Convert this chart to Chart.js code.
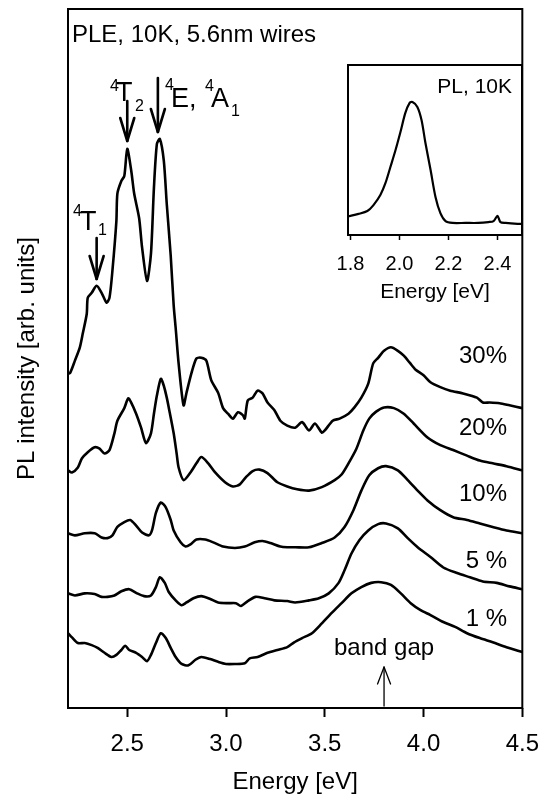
<!DOCTYPE html>
<html><head><meta charset="utf-8">
<script src="https://cdn.jsdelivr.net/npm/chart.js@4/dist/chart.umd.min.js"></script>
<style>
html,body{margin:0;padding:0;background:#fff;}
#wrap{position:relative;width:552px;height:800px;background:#fff;}
#main{position:absolute;left:0;top:0;width:552px;height:800px;}
#inset{position:absolute;left:300px;top:50px;width:240px;height:260px;}
</style></head><body>
<div id="wrap"><canvas id="main" width="552" height="800"></canvas><canvas id="inset" width="240" height="260"></canvas></div>
<script>
// ---- data (energy in eV, PL intensity in arbitrary units, curves offset as in the figure) ----
const energy30 = [2.2,2.21,2.235,2.26,2.275,2.295,2.3,2.32,2.345,2.37,2.395,2.41,2.425,2.445,2.45,2.47,2.485,2.5,2.52,2.535,2.56,2.575,2.6,2.62,2.635,2.65,2.665,2.685,2.7,2.72,2.735,2.745,2.76,2.785,2.8,2.825,2.85,2.875,2.9,2.925,2.96,2.985,3.01,3.035,3.06,3.085,3.095,3.11,3.135,3.16,3.185,3.21,3.245,3.275,3.31,3.35,3.385,3.42,3.45,3.485,3.5,3.54,3.575,3.62,3.65,3.685,3.72,3.745,3.77,3.8,3.835,3.87,3.9,3.93,3.96,4.0,4.035,4.085,4.135,4.2,4.27,4.3,4.335,4.385,4.435,4.5];
const pl30 = [47.9,47.9,49.7,51.6,53.6,56.4,58.7,59.4,60.4,59.4,58.0,58.7,62.6,69.7,73.6,75.4,76.1,80.0,76.9,73.6,70.1,65.9,61.1,65.0,74.4,80.7,81.4,78.3,72.1,64.7,57.6,54.4,49.3,43.3,45.1,47.9,50.0,50.1,49.7,46.9,45.1,42.9,42.1,41.4,42.3,41.9,41.4,44.0,44.4,45.4,45.0,43.7,42.6,41.1,40.4,40.1,40.9,39.7,40.7,39.4,39.7,41.1,41.4,42.1,43.0,44.4,46.4,49.3,50.1,51.1,51.6,51.1,50.4,49.4,48.4,47.6,46.6,45.9,45.4,45.0,44.4,43.7,43.7,43.6,43.3,42.9];

const energy20 = [2.2,2.22,2.25,2.27,2.3,2.335,2.36,2.385,2.41,2.435,2.45,2.485,2.505,2.52,2.545,2.57,2.595,2.62,2.635,2.65,2.67,2.685,2.7,2.71,2.735,2.75,2.76,2.785,2.82,2.85,2.875,2.91,2.945,2.995,3.035,3.07,3.1,3.135,3.17,3.21,3.26,3.31,3.36,3.42,3.485,3.55,3.585,3.62,3.66,3.695,3.725,3.76,3.8,3.85,3.9,3.95,4.02,4.085,4.15,4.22,4.285,4.35,4.42,4.5];
const pl20 = [34.0,33.7,34.4,35.7,36.6,37.3,37.1,36.4,36.9,39.3,41.1,42.9,44.3,43.7,42.1,40.1,37.9,39.3,42.1,44.7,47.1,46.1,44.4,43.0,39.3,36.4,34.4,32.6,33.7,35.0,35.9,35.0,33.7,32.3,31.7,32.0,33.0,33.9,34.1,33.6,32.3,31.7,31.3,31.1,31.6,32.6,33.4,35.0,37.1,39.7,41.4,42.4,43.0,42.9,42.1,40.7,38.7,37.6,36.9,36.1,35.4,35.0,34.6,34.0];

const energy10 = [2.2,2.235,2.285,2.335,2.37,2.4,2.425,2.45,2.485,2.515,2.545,2.575,2.61,2.625,2.645,2.67,2.695,2.72,2.735,2.77,2.795,2.82,2.85,2.895,2.935,2.985,3.045,3.095,3.145,3.185,3.225,3.275,3.31,3.35,3.42,3.485,3.55,3.6,3.645,3.685,3.725,3.77,3.81,3.87,3.92,3.97,4.02,4.085,4.15,4.22,4.285,4.35,4.42,4.5];
const pl10 = [25.0,24.7,25.0,25.0,24.4,24.3,24.7,25.9,26.6,26.9,26.1,25.1,24.7,25.4,27.9,29.4,28.7,26.9,25.4,23.7,23.1,23.4,24.1,24.1,23.7,23.1,22.9,23.1,23.7,23.9,23.6,23.1,23.0,23.0,23.0,23.6,24.4,25.9,28.3,31.1,33.3,34.3,34.6,34.0,32.6,31.1,29.7,28.3,27.3,26.9,26.4,25.9,25.4,25.0];

const energy5 = [2.2,2.235,2.285,2.335,2.37,2.4,2.435,2.47,2.51,2.55,2.585,2.62,2.645,2.665,2.69,2.71,2.745,2.775,2.8,2.835,2.875,2.92,2.96,3.01,3.05,3.075,3.11,3.15,3.195,3.245,3.31,3.35,3.42,3.47,3.52,3.57,3.6,3.635,3.675,3.72,3.77,3.81,3.87,3.92,3.97,4.035,4.1,4.17,4.235,4.3,4.37,4.435,4.5];
const pl5 = [16.4,16.1,16.4,16.3,15.9,15.9,16.1,16.7,17.0,16.4,16.0,16.1,17.3,18.7,17.9,16.6,15.4,14.7,15.1,15.7,16.0,15.6,15.1,15.0,15.0,14.6,15.3,15.9,15.7,15.4,15.3,15.1,15.4,15.7,16.4,17.9,19.7,22.1,24.0,25.4,26.3,26.4,25.7,24.3,23.0,21.6,20.1,19.3,18.7,18.1,17.9,17.4,17.0];

const energy1 = [2.2,2.22,2.25,2.285,2.32,2.35,2.385,2.42,2.445,2.47,2.49,2.51,2.545,2.575,2.6,2.62,2.645,2.67,2.695,2.72,2.745,2.775,2.81,2.845,2.875,2.92,2.96,3.0,3.045,3.095,3.12,3.16,3.21,3.26,3.31,3.345,3.385,3.435,3.485,3.535,3.585,3.635,3.685,3.735,3.785,3.835,3.885,3.935,3.985,4.035,4.1,4.16,4.22,4.285,4.35,4.42,4.5];
const pl1 = [10.7,10.1,9.3,9.3,9.0,8.6,7.9,7.3,7.6,8.3,8.9,8.3,7.9,7.3,6.7,7.6,9.3,10.7,10.0,8.6,7.3,6.3,6.1,6.9,7.3,7.0,6.6,6.3,6.3,6.4,7.1,7.3,7.9,8.3,8.7,9.4,10.0,10.7,12.1,13.6,15.0,16.4,17.3,17.9,18.0,17.6,16.4,15.0,14.0,13.3,12.3,11.6,10.7,10.0,9.4,8.7,8.0];

const seriesLabels = ['30%','20%','10%','5 %','1 %'];
const xTickValues = [2.5,3.0,3.5,4.0,4.5];

// inset: PL spectrum
const insetEnergy = [1.79,1.833,1.869,1.894,1.922,1.943,1.963,1.984,2.004,2.024,2.041,2.053,2.073,2.09,2.106,2.127,2.147,2.167,2.188,2.216,2.269,2.322,2.363,2.384,2.4,2.412,2.433,2.482,2.494];
const insetPL = [0.11,0.124,0.141,0.176,0.235,0.306,0.4,0.5,0.606,0.718,0.776,0.782,0.753,0.676,0.541,0.382,0.224,0.129,0.082,0.071,0.071,0.071,0.076,0.082,0.112,0.076,0.071,0.065,0.065];
const insetTickValues = [1.8,2.0,2.2,2.4];

// ---- helpers ----
const FONT = '"Liberation Sans", Arial, Helvetica, sans-serif';
function pts(xs, ys){ const n=Math.min(xs.length, ys.length); const a=[]; for(let i=0;i<n;i++) a.push({x:xs[i], y:ys[i]}); return a; }
function ds(label, xs, ys){ return {label, data: pts(xs, ys), borderColor:'#000', borderWidth:2.6, pointRadius:0, fill:false, tension:0.25, borderJoinStyle:'round', borderCapStyle:'round'}; }

function arrowDown(ctx, x, y0, y1, head, half, lw){
  ctx.save(); ctx.strokeStyle='#000'; ctx.lineWidth=lw; ctx.lineCap='round'; ctx.lineJoin='round';
  ctx.beginPath(); ctx.moveTo(x,y0); ctx.lineTo(x,y1); ctx.stroke();
  ctx.beginPath(); ctx.moveTo(x-half,y1-head); ctx.lineTo(x,y1); ctx.lineTo(x+half,y1-head); ctx.stroke();
  ctx.restore();
}
function arrowUp(ctx, x, y0, y1, head, half, lw){
  ctx.save(); ctx.strokeStyle='#000'; ctx.lineWidth=lw; ctx.lineCap='round'; ctx.lineJoin='round';
  ctx.beginPath(); ctx.moveTo(x,y0); ctx.lineTo(x,y1); ctx.stroke();
  ctx.beginPath(); ctx.moveTo(x-half,y1+head); ctx.lineTo(x,y1); ctx.lineTo(x+half,y1+head); ctx.stroke();
  ctx.restore();
}
function txt(ctx, s, x, y, size, align){
  ctx.font = size + 'px ' + FONT; ctx.fillStyle='#000'; ctx.textAlign = align || 'left'; ctx.textBaseline='alphabetic';
  ctx.fillText(s, x, y);
}

const mainDecor = {
  id:'mainDecor',
  afterDraw(chart){
    const ctx = chart.ctx, ca = chart.chartArea, xs = chart.scales.x;
    ctx.save();
    ctx.strokeStyle='#000'; ctx.lineWidth=2;
    ctx.strokeRect(ca.left, ca.top, ca.right-ca.left, ca.bottom-ca.top);
    // title
    txt(ctx, 'PLE, 10K, 5.6nm wires', 72, 42, 24);
    // concentration labels
    const ly = [363, 435, 501, 568, 626];
    seriesLabels.forEach((s,i)=> txt(ctx, s, 507, ly[i], 24, 'right'));
    // 4T1
    txt(ctx, '4', 73, 216, 16); txt(ctx, 'T', 80, 230, 27); txt(ctx, '1', 98, 235, 16);
    arrowDown(ctx, xs.getPixelForValue(2.345), 238, 279, 23, 7, 2.6);
    // 4T2
    txt(ctx, '4', 110, 91, 16); txt(ctx, 'T', 116, 101, 27); txt(ctx, '2', 135, 111, 16);
    arrowDown(ctx, xs.getPixelForValue(2.5), 101, 141, 23, 7, 2.6);
    // 4E, 4A1
    txt(ctx, '4', 165, 90, 16); txt(ctx, 'E,', 171, 107, 27);
    txt(ctx, '4', 205, 91, 16); txt(ctx, 'A', 211, 107, 27); txt(ctx, '1', 231, 116, 16);
    arrowDown(ctx, xs.getPixelForValue(2.655), 78, 132, 23, 7, 2.6);
    // band gap
    txt(ctx, 'band gap', xs.getPixelForValue(3.8), 655, 24, 'center');
    arrowUp(ctx, xs.getPixelForValue(3.8), ca.bottom-2, 667, 17, 6.5, 1.3);
    ctx.restore();
  }
};

const insetDecor = {
  id:'insetDecor',
  afterDraw(chart){
    const ctx = chart.ctx, ca = chart.chartArea;
    ctx.save();
    ctx.strokeStyle='#000'; ctx.lineWidth=2;
    ctx.strokeRect(ca.left, ca.top, ca.right-ca.left, ca.bottom-ca.top);
    txt(ctx, 'PL, 10K', 212, 43, 21, 'right');
    ctx.restore();
  }
};

new Chart(document.getElementById('main'), {
  type:'line',
  data:{ datasets:[ ds(seriesLabels[0], energy30, pl30), ds(seriesLabels[1], energy20, pl20), ds(seriesLabels[2], energy10, pl10), ds(seriesLabels[3], energy5, pl5), ds(seriesLabels[4], energy1, pl1) ] },
  options:{
    responsive:false, animation:false, devicePixelRatio:1,
    layout:{ padding:{ top:9, right:23, left:0, bottom:0 } },
    plugins:{ legend:{display:false}, tooltip:{enabled:false} },
    scales:{
      x:{ type:'linear', position:'bottom', min:2.2, max:4.5,
        afterBuildTicks: s => { s.ticks = xTickValues.map(v=>({value:v})); },
        afterFit: s => { s.height = 92; },
        ticks:{ color:'#000', font:{family:FONT, size:24}, padding:13, maxRotation:0, autoSkip:false, callback: v => Number(v).toFixed(1) },
        grid:{ display:true, drawOnChartArea:false, drawTicks:true, tickLength:9, tickWidth:2, tickColor:'#000', color:'#000' },
        border:{ display:false },
        title:{ display:true, text:'Energy [eV]', color:'#000', font:{family:FONT, size:24}, padding:{top:0, bottom:3} }
      },
      y:{ type:'linear', position:'left', min:0, max:100,
        afterFit: s => { s.width = 68; },
        ticks:{ display:false },
        grid:{ display:false },
        border:{ display:false },
        title:{ display:true, text:'PL intensity [arb. units]', color:'#000', font:{family:FONT, size:24}, padding:{top:13, bottom:0} }
      }
    }
  },
  plugins:[mainDecor]
});

new Chart(document.getElementById('inset'), {
  type:'line',
  data:{ datasets:[ Object.assign(ds('PL, 10K', insetEnergy, insetPL), {borderWidth:2.2, tension:0.3}) ] },
  options:{
    responsive:false, animation:false, devicePixelRatio:1,
    layout:{ padding:{ top:15, right:18, left:0, bottom:0 } },
    plugins:{ legend:{display:false}, tooltip:{enabled:false} },
    scales:{
      x:{ type:'linear', position:'bottom', min:1.79, max:2.5,
        afterBuildTicks: s => { s.ticks = insetTickValues.map(v=>({value:v})); },
        afterFit: s => { s.height = 75; },
        ticks:{ color:'#000', font:{family:FONT, size:20}, padding:12, maxRotation:0, autoSkip:false, callback: v => Number(v).toFixed(1) },
        grid:{ display:true, drawOnChartArea:false, drawTicks:true, tickLength:5, tickWidth:1.5, tickColor:'#000', color:'#000' },
        border:{ display:false },
        title:{ display:true, text:'Energy [eV]', color:'#000', font:{family:FONT, size:21}, padding:{top:0, bottom:5} }
      },
      y:{ type:'linear', position:'left', min:0, max:1,
        afterFit: s => { s.width = 48; },
        ticks:{ display:false }, grid:{ display:false }, border:{ display:false }
      }
    }
  },
  plugins:[insetDecor]
});
</script>
</body></html>
